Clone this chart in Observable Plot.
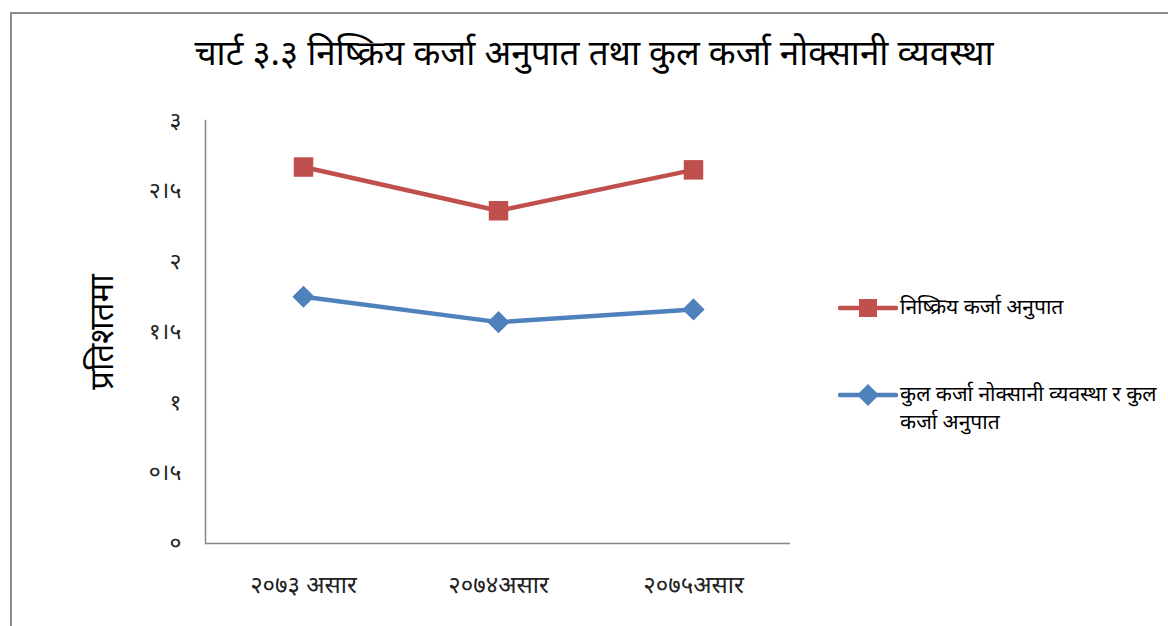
<!DOCTYPE html>
<html>
<head>
<meta charset="utf-8">
<script src="https://cdn.jsdelivr.net/npm/d3@7"></script>
<script src="https://cdn.jsdelivr.net/npm/@observablehq/plot@0.6"></script>
<style>
  html, body { margin: 0; padding: 0; background: #fff; overflow: hidden; width: 1168px; height: 626px; }
  body { font-family: "Noto Sans", "DejaVu Sans", sans-serif; position: relative; }
  #frame { position: absolute; left: 10px; top: 12px; width: 1200px; height: 650px; border: 2px solid #8c8c8c; box-sizing: border-box; }
  #title { position: absolute; left: 0; top: 28px; width: 1188px; text-align: center; font-size: 35px; color: #000; white-space: nowrap; }
  #chart { position: absolute; left: 0; top: 0; }
  #legend { position: absolute; left: 838px; top: 0; font-size: 21px; color: #000; }
  .item { position: absolute; left: 0; white-space: nowrap; }
  .item svg { position: absolute; left: 0; }
  .item span { position: absolute; left: 62px; top: -2px; line-height: 28px; }
</style>
</head>
<body>
<div id="frame"></div>
<div id="title"></div>
<div id="chart"></div>
<div id="legend"></div>
<script>
const title = "चार्ट ३.३ निष्क्रिय कर्जा अनुपात तथा कुल कर्जा नोक्सानी व्यवस्था";
const yLabel = "प्रतिशतमा";
const categories = ["२०७३ असार", "२०७४असार", "२०७५असार"];
const seriesNames = ["निष्क्रिय कर्जा अनुपात", "कुल कर्जा नोक्सानी व्यवस्था र कुल कर्जा अनुपात"];
const npl = [2.67, 2.36, 2.65];
const llp = [1.75, 1.57, 1.66];
const yTicks = [0, 0.5, 1, 1.5, 2, 2.5, 3];
const yTickLabels = ["०", "०।५", "१", "१।५", "२", "२।५", "३"];
const colors = ["#C0504D", "#4F81BD"];

const data = [
  ...categories.map((c, i) => ({cat: c, v: npl[i], s: seriesNames[0]})),
  ...categories.map((c, i) => ({cat: c, v: llp[i], s: seriesNames[1]}))
];
const redData = data.filter(d => d.s === seriesNames[0]);
const blueData = data.filter(d => d.s === seriesNames[1]);

document.getElementById("title").textContent = title;

const W = 820, H = 626;
const chart = Plot.plot({
  width: W,
  height: H,
  marginLeft: 205,
  marginRight: 30,
  marginTop: 120,
  marginBottom: 83,
  style: {fontFamily: "'Noto Sans', 'DejaVu Sans', sans-serif", background: "transparent"},
  x: {type: "point", domain: categories, padding: 0.5},
  y: {domain: [0, 3]},
  marks: [
    Plot.frame({anchor: "left", stroke: "#868686", strokeWidth: 1.5}),
    Plot.ruleY([0], {stroke: "#868686", strokeWidth: 1.5}),
    Plot.axisY({ticks: yTicks, tickFormat: (d) => yTickLabels[yTicks.indexOf(d)], tickSize: 0, tickPadding: 24, fontSize: 23, label: null, color: "#222"}),
    Plot.axisX({tickSize: 0, tickPadding: 32, fontSize: 24, label: null, color: "#222"}),
    Plot.text([yLabel], {frameAnchor: "left", textAnchor: "middle", dx: -103, rotate: -90, fontSize: 33, fill: "#000"}),
    Plot.line(redData, {x: "cat", y: "v", stroke: colors[0], strokeWidth: 4.5}),
    Plot.line(blueData, {x: "cat", y: "v", stroke: colors[1], strokeWidth: 4.5}),
    Plot.dot(redData, {x: "cat", y: "v", symbol: "square", r: 11, fill: colors[0], stroke: "none"}),
    Plot.dot(blueData, {x: "cat", y: "v", symbol: "diamond2", r: 10, fill: colors[1], stroke: "none"})
  ]
});
document.getElementById("chart").appendChild(chart);

// legend
const legend = document.getElementById("legend");
const entries = [
  {color: colors[0], sym: "square", top: 294, lines: [seriesNames[0]]},
  {color: colors[1], sym: "diamond", top: 381, lines: ["कुल कर्जा नोक्सानी व्यवस्था र कुल", "कर्जा अनुपात"]}
];
entries.forEach(e => {
  const div = document.createElement("div");
  div.className = "item";
  div.style.top = e.top + "px";
  const marker = e.sym === "square"
    ? `<rect x="21" y="5" width="18" height="18" fill="${e.color}"/>`
    : `<path d="M30,3 L41,14 L30,25 L19,14 Z" fill="${e.color}"/>`;
  div.innerHTML = `<svg width="60" height="28"><line x1="2" y1="14" x2="58" y2="14" stroke="${e.color}" stroke-width="4.5" stroke-linecap="round"/>${marker}</svg>` +
    `<span>${e.lines.join("<br>")}</span>`;
  legend.appendChild(div);
});
</script>
</body>
</html>
